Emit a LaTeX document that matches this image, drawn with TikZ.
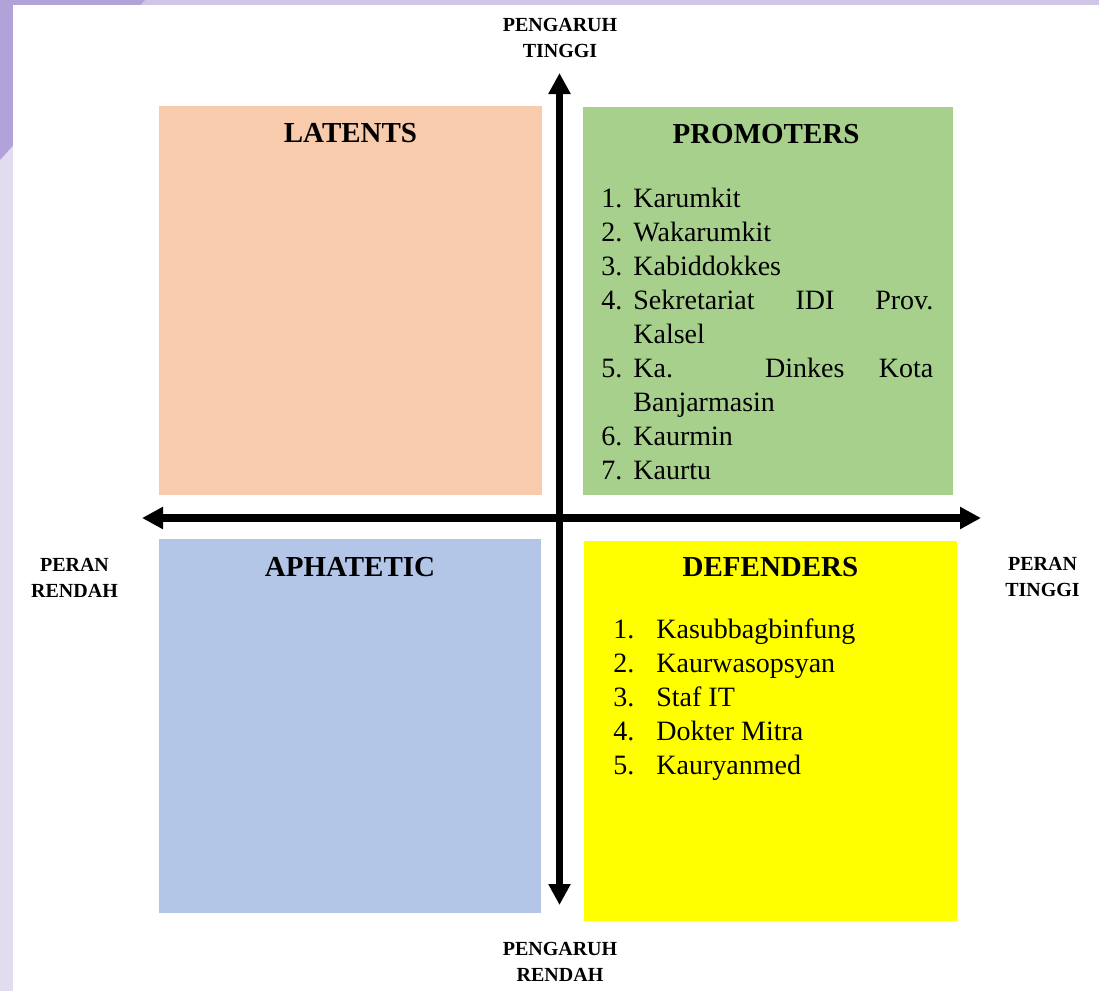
\documentclass[tikz,border=0pt]{standalone}
\usepackage{fontspec}
\setmainfont{Liberation Serif}
\usepackage{xcolor}
\usetikzlibrary{arrows.meta,positioning}

\definecolor{latentfill}{HTML}{F7CBAC}
\definecolor{promoterfill}{HTML}{A8D08D}
\definecolor{apathyfill}{HTML}{B4C6E7}
\definecolor{defenderfill}{HTML}{FFFF00}
\definecolor{frameA}{HTML}{E2DCEF}
\definecolor{frameB}{HTML}{CFC5E6}
\definecolor{frameC}{HTML}{B1A3D9}

\newlength{\numw}
\newcommand{\entry}[2]{\par\noindent\hangindent=\numw\hangafter=1\makebox[\numw][l]{#1}#2}

\begin{document}
\begin{tikzpicture}[
  x=0.5pt, y=-0.5pt,
  quad/.style={anchor=north west,inner sep=0pt,outer sep=0pt},
  title/.style={anchor=base,inner sep=0pt,font=\fontsize{14.5}{17}\selectfont\bfseries},
  axislabel/.style={align=center,inner sep=0pt,font=\fontsize{10}{13}\selectfont\bfseries},
  list/.style={anchor=base west,inner sep=0pt,font=\fontsize{14}{17}\selectfont},
  axis/.style={{Triangle[length=10.5pt,width=10.5pt]}-{Triangle[length=10.5pt,width=10.5pt]},line width=3.75pt}
  ]
  \useasboundingbox (0,0) rectangle (1099,991);
  % frame of the screenshot
  \fill[frameA] (0,0) rectangle (1099,991);
  \fill[frameB] (0,0) rectangle (1099,5);
  \fill[frameC] (0,0) -- (145,0) -- (0,160) -- cycle;
  \fill[white] (13,5) rectangle (1099,991);

  % quadrants
  \node[quad, fill=latentfill, minimum width=191.5pt, minimum height=194.5pt] (latents) at (159,106) {};
  \node[quad, fill=promoterfill, minimum width=185pt, minimum height=194pt] (promoters) at (583,107) {};
  \node[quad, fill=apathyfill, minimum width=191pt, minimum height=187pt] (aphatetic) at (159,539) {};
  \node[quad, fill=defenderfill, minimum width=186.5pt, minimum height=190pt] (defenders) at (584,541) {};

  \node[title] (latentsT) at (350.5,142) {LATENTS};
  \node[title] (promotersT) at (766,143) {PROMOTERS};
  \node[title] (aphateticT) at (350,576) {APHATETIC};
  \node[title] (defendersT) at (770.5,576) {DEFENDERS};

  \node[list] (plist) at (601,207) {\parbox[t]{166pt}{\setlength{\numw}{16pt}\hyphenpenalty=10000
    \entry{1.}{Karumkit}
    \entry{2.}{Wakarumkit}
    \entry{3.}{Kabiddokkes}
    \entry{4.}{Sekretariat IDI Prov.\linebreak Kalsel}
    \entry{5.}{Ka. Dinkes Kota\linebreak Banjarmasin}
    \entry{6.}{Kaurmin}
    \entry{7.}{Kaurtu}}};
  \node[list] (dlist) at (613,638) {\parbox[t]{170pt}{\setlength{\numw}{21.5pt}\hyphenpenalty=10000
    \entry{1.}{Kasubbagbinfung}
    \entry{2.}{Kaurwasopsyan}
    \entry{3.}{Staf IT}
    \entry{4.}{Dokter Mitra}
    \entry{5.}{Kauryanmed}}};

  % axes
  \coordinate (ytop) at (559.5,73);
  \coordinate (ybot) at (559.5,905);
  \coordinate (xleft) at (142,518);
  \coordinate (xright) at (981,518);
  \draw[axis] (ybot) -- (ytop);
  \draw[axis] (xleft) -- (xright);

  \node[axislabel] (inflhigh) at (560,38) {PENGARUH\\TINGGI};
  \node[axislabel] (infllow) at (560,961.5) {PENGARUH\\RENDAH};
  \node[axislabel] (rolelow) at (74.5,577.5) {PERAN\\RENDAH};
  \node[axislabel] (rolehigh) at (1042.5,576.5) {PERAN\\TINGGI};
\end{tikzpicture}
\end{document}
